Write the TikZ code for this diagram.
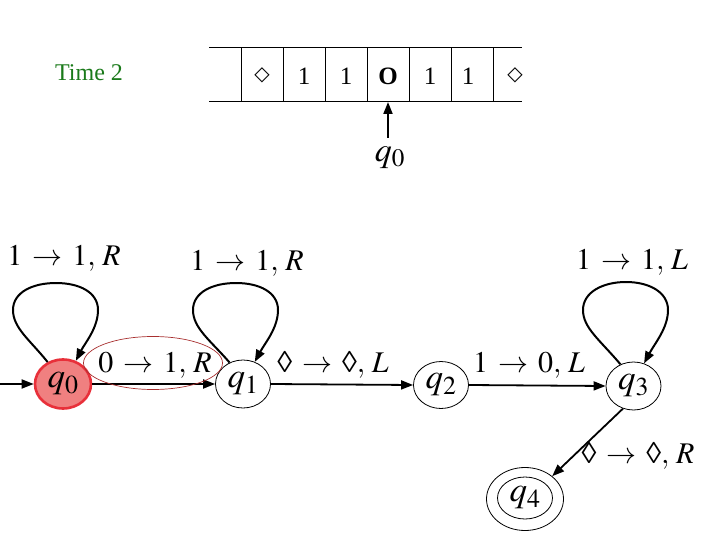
\documentclass[tikz,border=0pt]{standalone}
\usepackage{mathptmx}
\usepackage{fontspec}
\setmainfont{Liberation Serif}
\newfontfamily\symfont{DejaVu Sans}
\usetikzlibrary{arrows.meta,shapes.geometric}
\definecolor{timegreen}{HTML}{1A7A1A}
\definecolor{startfill}{HTML}{F08080}
\definecolor{startdraw}{HTML}{E8303A}
\definecolor{hilite}{HTML}{A83030}
\newcommand{\loz}{\mbox{◊}}
\newcommand{\tr}[3]{#1\,\rightarrow\,#2,\,#3}
\begin{document}
\begin{tikzpicture}[x=1pt,y=-1pt,
  state/.style={ellipse,draw,line width=0.8pt,minimum width=55pt,minimum height=48pt,inner sep=0pt,font=\fontsize{35}{37}\selectfont},
  startstate/.style={state,fill=startfill,draw=startdraw,line width=2.6pt},
  edge/.style={line width=1.8pt,-{Triangle[length=12pt,width=9pt]}},
  loopline/.style={line width=2pt,-{Triangle[length=12pt,width=9pt]}},
  lab/.style={font=\fontsize{30}{32}\selectfont,inner sep=0pt},
  cell/.style={font=\fontsize{25}{27}\selectfont,inner sep=0pt},
  tapeline/.style={line width=1pt}]
\useasboundingbox (0,0) rectangle (720,540);
% title
\node[text=timegreen,font=\fontsize{24}{26}\selectfont] (title) at (89,73) {Time 2};
% tape
\draw[tapeline] (209,48) -- (522,48);
\draw[tapeline] (209,102) -- (522,102);
\foreach \x in {241,283,325,367,409,451,493} \draw[tapeline] (\x,48) -- (\x,102);
\node[cell,font=\symfont\fontsize{20}{22}\selectfont] (c1) at (262,75) {◇};
\node[cell] (c2) at (304,76) {1};
\node[cell] (c3) at (346,76) {1};
\node[cell] (c4) at (388,76) {\textbf{O}};
\node[cell] (c5) at (430,76) {1};
\node[cell] (c6) at (468,76) {1};
\node[cell,font=\symfont\fontsize{20}{22}\selectfont] (c7) at (515,75) {◇};
\node[font=\fontsize{34}{36}\selectfont,inner sep=0pt] (head) at (390,158) {$q_0$};
\coordinate (headtip) at (388,102);
\draw[edge] (388,138) -- (headtip);
% states
\node[startstate,minimum width=56pt,minimum height=49pt] (q0) at (63,384) {$q_0$};
\node[state] (q1) at (243,384) {$q_1$};
\node[state,minimum height=47pt] (q2) at (441,385) {$q_2$};
\node[state] (q3) at (633.5,386) {$q_3$};
\node[state,minimum width=55pt,minimum height=42pt] (q4) at (525,498) {$q_4$};
\node[ellipse,draw,line width=0.8pt,minimum width=77pt,minimum height=63pt] (q4o) at (525,499) {};
% start arrow
\coordinate (start) at (0,384);
\draw[edge] (start) -- (q0.west);
% edges
\draw[edge] (q0.east) -- (q1.west);
\draw[edge] (q1.east) -- (q2.west);
\draw[edge] (q2.east) -- (q3.west);
\draw[edge] (q3.-115) -- (q4o.40);
% loops
\draw[loopline] (q0.125) .. controls (30,340) and (13,328) .. (13,310) .. controls (13,292) and (33,283) .. (56,283) .. controls (79,283) and (98,292) .. (98,310) .. controls (98,328) and (85,343) .. (q0.61);
\draw[loopline] (q1.122) .. controls (210,340) and (193,328) .. (193,310) .. controls (193,292) and (213,283) .. (236,283) .. controls (259,283) and (278,292) .. (278,310) .. controls (278,328) and (265,343) .. (q1.62);
\draw[loopline] (q3.121) .. controls (600,340) and (583,328) .. (583,310) .. controls (583,292) and (603,282) .. (626,282) .. controls (649,282) and (668,292) .. (668,310) .. controls (668,328) and (655,343) .. (q3.65);
% labels
\node[lab] (l00) at (64,258) {$\tr{1}{1}{R}$};
\node[lab] (l11) at (247,263) {$\tr{1}{1}{R}$};
\node[lab] (l01) at (155,365) {$\tr{0}{1}{R}$};
\node[ellipse,draw=hilite,line width=0.7pt,minimum width=139pt,minimum height=53pt] (hl) at (153,363) {};
\node[lab] (l12) at (333,365) {$\tr{\loz}{\loz}{L}$};
\node[lab] (l23) at (529,365) {$\tr{1}{0}{L}$};
\node[lab] (l33) at (632,262) {$\tr{1}{1}{L}$};
\node[lab] (l34) at (638,456) {$\tr{\loz}{\loz}{R}$};
\end{tikzpicture}
\end{document}
